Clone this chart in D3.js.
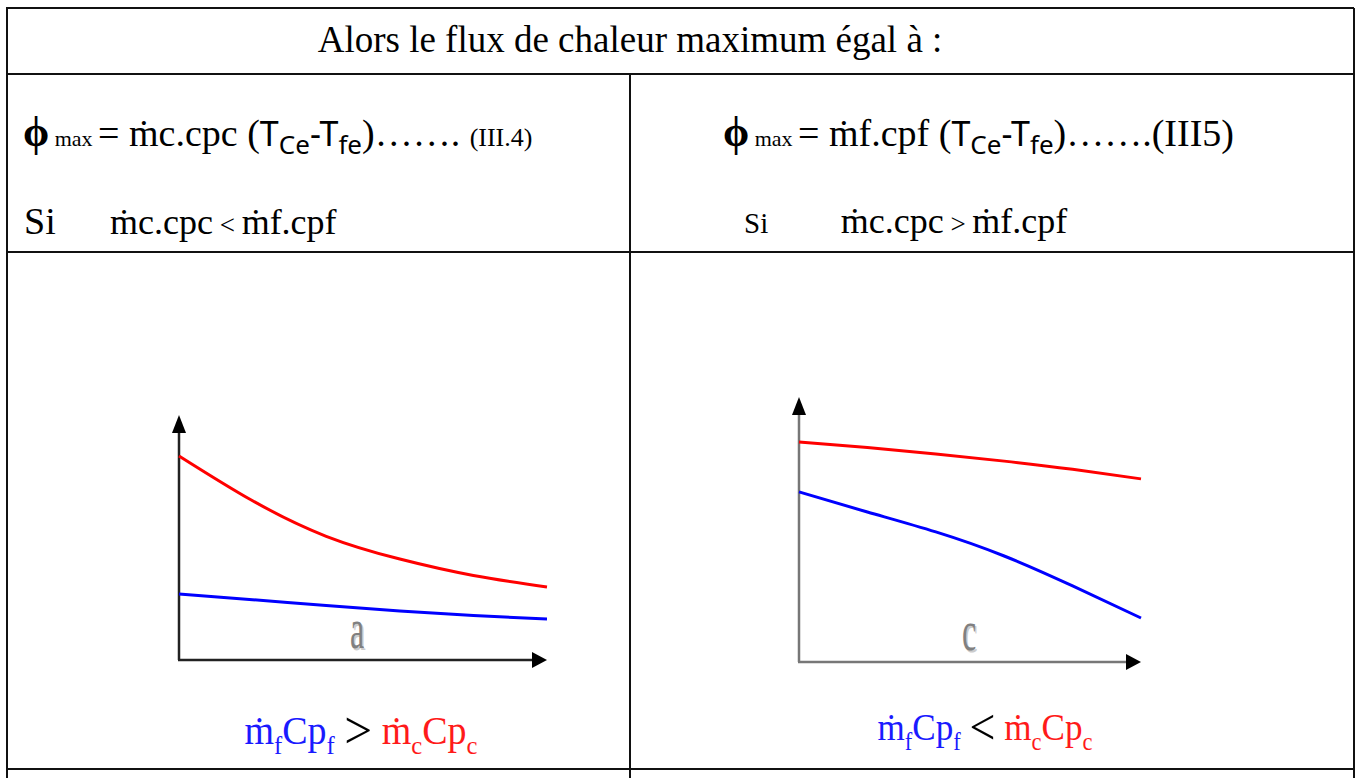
<!DOCTYPE html>
<html>
<head>
<meta charset="utf-8">
<script src="https://cdn.jsdelivr.net/npm/d3@7"></script>
<style>
  body { margin: 0; background: #fff; }
  svg { display: block; }
</style>
</head>
<body>
<div id="tableau"></div>
<script>
// donnees (unites arbitraires 0..10)
var titre = 'Alors le flux de chaleur maximum égal à :';
var xs = [0, 2, 4, 6, 8, 10];
var rougeA = [8.33, 6.5, 5.05, 4.12, 3.45, 2.98];
var bleuA = [2.69, 2.46, 2.22, 2.0, 1.82, 1.67];
var rougeC = [8.30, 8.09, 7.85, 7.58, 7.27, 6.91];
var bleuC = [6.42, 5.66, 4.91, 4.0, 2.87, 1.66];
var lettres = ['a', 'c'];
var signes = ['>', '<'];

var W = 1361, H = 778;
var serif = '"Liberation Serif", "Times New Roman", serif';
var sans = '"Noto Sans", "Open Sans", sans-serif';

var svg = d3.select('#tableau').append('svg')
    .attr('width', W)
    .attr('height', H);

svg.append('rect').attr('width', W).attr('height', H).attr('fill', '#fff');

// lignes du tableau
var lignes = [
    [6, 8, 1354, 8],
    [6, 74, 1354, 74],
    [6, 252, 1354, 252],
    [6, 769, 1354, 769],
    [7, 8, 7, 778],
    [1354, 8, 1354, 778],
    [630, 74, 630, 778]
];
svg.append('g').selectAll('line')
    .data(lignes)
    .enter()
    .append('line')
    .attr('x1', function (d) { return d[0]; })
    .attr('y1', function (d) { return d[1]; })
    .attr('x2', function (d) { return d[2]; })
    .attr('y2', function (d) { return d[3]; })
    .attr('stroke', '#111')
    .attr('stroke-width', 2);

svg.append('text')
    .text(titre)
    .attr('x', 630)
    .attr('y', 52)
    .attr('text-anchor', 'middle')
    .attr('font-family', serif)
    .attr('font-size', '37px')
    .attr('fill', '#000');

// texte compose de morceaux (tspan)
function texte(x, y, morceaux, anchor) {
    var t = svg.append('text')
        .attr('x', x)
        .attr('y', y)
        .attr('text-anchor', anchor || 'start')
        .attr('font-family', serif)
        .attr('fill', '#000')
        .style('white-space', 'pre');
    morceaux.forEach(function (m) {
        t.append('tspan')
            .text(m.t)
            .attr('font-size', (m.s || 30) + 'px')
            .attr('font-family', m.f || serif)
            .attr('font-weight', m.w || 'normal')
            .attr('fill', m.c || '#000')
            .attr('dy', m.dy || 0);
    });
    return t;
}

texte(23, 146, [
    {t: 'ϕ', s: 42, w: 'bold'},
    {t: ' max ', s: 22},
    {t: '= ṁc.cpc (', s: 38},
    {t: 'T', s: 34, f: sans},
    {t: 'Ce', s: 26, f: sans, dy: 8},
    {t: '-T', s: 34, f: sans, dy: -8},
    {t: 'fe', s: 26, f: sans, dy: 8},
    {t: ')……. ', s: 38, dy: -8},
    {t: '(III.4)', s: 26}
]);
texte(24, 234, [
    {t: 'Si', s: 38},
    {t: '       ', s: 31},
    {t: 'ṁc.cpc', s: 36},
    {t: ' < ', s: 27},
    {t: 'ṁf.cpf', s: 36}
]);

texte(723, 146, [
    {t: 'ϕ', s: 42, w: 'bold'},
    {t: ' max ', s: 22},
    {t: '= ṁf.cpf (', s: 38},
    {t: 'T', s: 34, f: sans},
    {t: 'Ce', s: 26, f: sans, dy: 8},
    {t: '-T', s: 34, f: sans, dy: -8},
    {t: 'fe', s: 26, f: sans, dy: 8},
    {t: ')…….(III5)', s: 38, dy: -8}
]);
texte(744, 233, [
    {t: 'Si', s: 29},
    {t: '          ', s: 29},
    {t: 'ṁc.cpc', s: 36},
    {t: ' > ', s: 27},
    {t: 'ṁf.cpf', s: 36}
]);

// petits graphiques
var panneaux = [
    {xr: [179, 547], yr: [660, 415], rouge: rougeA, bleu: bleuA, axe: '#222', lettre: lettres[0], dl: -6,
        signe: signes[0], lx: 361, ly: 744, fs: 40, sx: 0.95},
    {xr: [799, 1141], yr: [662, 397], rouge: rougeC, bleu: bleuC, axe: '#777', lettre: lettres[1], dl: -1,
        signe: signes[1], lx: 985, ly: 740, fs: 39, sx: 0.9}
];

panneaux.forEach(function (p) {
    var xscale = d3.scaleLinear().domain([0, 10]).range(p.xr);
    var yscale = d3.scaleLinear().domain([0, 10]).range(p.yr);
    var g = svg.append('g');

    var x0 = xscale(0), y0 = yscale(0), xEnd = xscale(10), yTop = yscale(10);

    // axes
    g.append('line')
        .attr('x1', x0).attr('y1', y0)
        .attr('x2', x0).attr('y2', yTop + 14)
        .attr('stroke', p.axe).attr('stroke-width', 2.5);
    g.append('line')
        .attr('x1', x0 - 1).attr('y1', y0)
        .attr('x2', xEnd - 12).attr('y2', y0)
        .attr('stroke', p.axe).attr('stroke-width', 2.5);
    g.append('path')
        .attr('d', 'M' + x0 + ',' + yTop + 'L' + (x0 + 7) + ',' + (yTop + 18) + 'L' + (x0 - 7) + ',' + (yTop + 18) + 'Z')
        .attr('fill', '#000');
    g.append('path')
        .attr('d', 'M' + xEnd + ',' + y0 + 'L' + (xEnd - 15) + ',' + (y0 - 8) + 'L' + (xEnd - 15) + ',' + (y0 + 8) + 'Z')
        .attr('fill', '#000');

    var line = d3.line()
        .x(function (d, i) { return xscale(xs[i]); })
        .y(function (d) { return yscale(d); })
        .curve(d3.curveNatural);

    g.append('path')
        .attr('d', line(p.rouge))
        .attr('stroke', '#ff0000')
        .attr('stroke-width', 3)
        .attr('fill', 'none');
    g.append('path')
        .attr('d', line(p.bleu))
        .attr('stroke', '#0000ff')
        .attr('stroke-width', 3)
        .attr('fill', 'none');

    // lettre grise
    var cx = (x0 + xEnd) / 2 + p.dl;
    g.append('text')
        .text(p.lettre)
        .attr('transform', 'translate(' + (cx + 1.5) + ',' + (y0 - 10.5) + ') scale(0.8,1.45)')
        .attr('text-anchor', 'middle')
        .attr('font-family', serif)
        .attr('font-size', '40px')
        .attr('fill', '#ccc');
    g.append('text')
        .text(p.lettre)
        .attr('transform', 'translate(' + cx + ',' + (y0 - 12) + ') scale(0.8,1.45)')
        .attr('text-anchor', 'middle')
        .attr('font-family', serif)
        .attr('font-size', '40px')
        .attr('fill', '#808080');

    // legende
    var s = p.fs, ss = Math.round(p.fs * 0.65), d = Math.round(p.fs * 0.25);
    texte(p.lx, p.ly, [
        {t: 'ṁ', s: s, c: '#1a1aff'},
        {t: 'f', s: ss, c: '#1a1aff', dy: d},
        {t: 'Cp', s: s, c: '#1a1aff', dy: -d},
        {t: 'f', s: ss, c: '#1a1aff', dy: d},
        {t: ' ', s: s, dy: -d},
        {t: p.signe, s: Math.round(s * 1.3), c: '#000', dy: 4},
        {t: ' ', s: s, dy: -4},
        {t: 'ṁ', s: s, c: '#ff1a1a'},
        {t: 'c', s: ss, c: '#ff1a1a', dy: d},
        {t: 'Cp', s: s, c: '#ff1a1a', dy: -d},
        {t: 'c', s: ss, c: '#ff1a1a', dy: d}
    ], 'middle').attr('transform', 'translate(' + p.lx + ',' + p.ly + ') scale(' + p.sx + ',1) translate(' + (-p.lx) + ',' + (-p.ly) + ')');
});
</script>
</body>
</html>
